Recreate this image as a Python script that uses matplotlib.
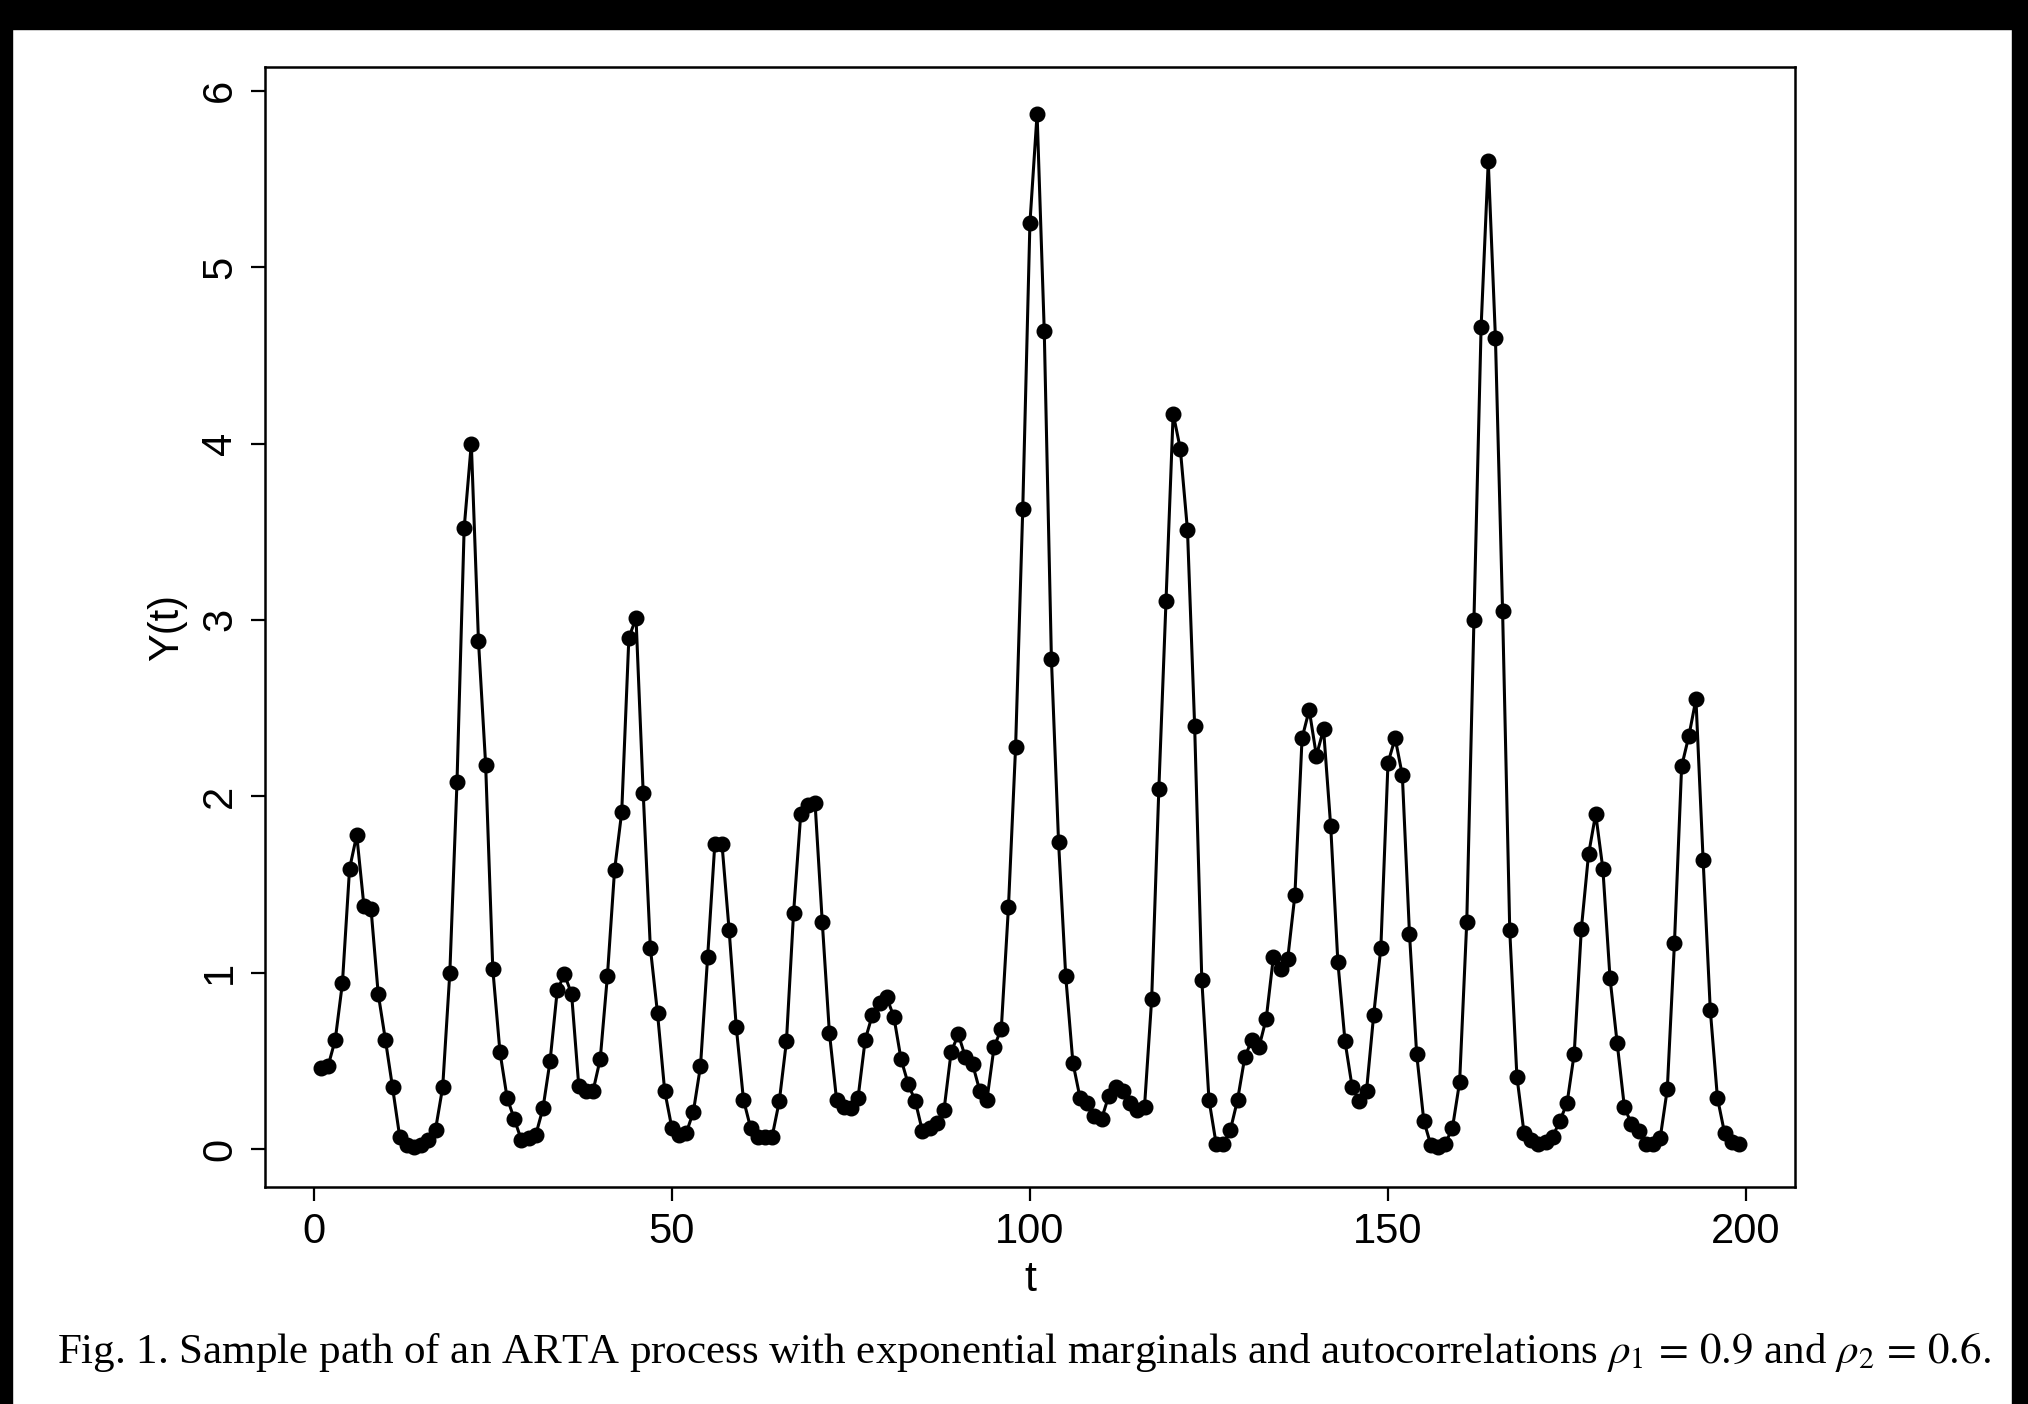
import matplotlib.pyplot as plt
from matplotlib.patches import Rectangle

# sample path values Y(t)
y_vals = [
    0.46, 0.47, 0.62, 0.94, 1.59, 1.78, 1.38, 1.36, 0.88, 0.62,
    0.35, 0.07, 0.02, 0.01, 0.02, 0.05, 0.11, 0.35, 1.00, 2.08,
    3.52, 4.00, 2.88, 2.18, 1.02, 0.55, 0.29, 0.17, 0.05, 0.06,
    0.08, 0.23, 0.50, 0.90, 0.99, 0.88, 0.36, 0.33, 0.33, 0.51,
    0.98, 1.58, 1.91, 2.90, 3.01, 2.02, 1.14, 0.77, 0.33, 0.12,
    0.08, 0.09, 0.21, 0.47, 1.09, 1.73, 1.73, 1.24, 0.69, 0.28,
    0.12, 0.07, 0.07, 0.07, 0.27, 0.61, 1.34, 1.90, 1.95, 1.96,
    1.29, 0.66, 0.28, 0.24, 0.23, 0.29, 0.62, 0.76, 0.83, 0.86,
    0.75, 0.51, 0.37, 0.27, 0.10, 0.12, 0.15, 0.22, 0.55, 0.65,
    0.52, 0.48, 0.33, 0.28, 0.58, 0.68, 1.37, 2.28, 3.63, 5.25,
    5.87, 4.64, 2.78, 1.74, 0.98, 0.49, 0.29, 0.26, 0.19, 0.17,
    0.30, 0.35, 0.33, 0.26, 0.22, 0.24, 0.85, 2.04, 3.11, 4.17,
    3.97, 3.51, 2.40, 0.96, 0.28, 0.03, 0.03, 0.11, 0.28, 0.52,
    0.62, 0.58, 0.74, 1.09, 1.02, 1.08, 1.44, 2.33, 2.49, 2.23,
    2.38, 1.83, 1.06, 0.61, 0.35, 0.27, 0.33, 0.76, 1.14, 2.19,
    2.33, 2.12, 1.22, 0.54, 0.16, 0.02, 0.01, 0.03, 0.12, 0.38,
    1.29, 3.00, 4.66, 5.60, 4.60, 3.05, 1.24, 0.41, 0.09, 0.05,
    0.03, 0.04, 0.07, 0.16, 0.26, 0.54, 1.25, 1.67, 1.90, 1.59,
    0.97, 0.60, 0.24, 0.14, 0.10, 0.03, 0.03, 0.06, 0.34, 1.17,
    2.17, 2.34, 2.55, 1.64, 0.79, 0.29, 0.09, 0.04, 0.03,
]
t_vals = list(range(1, len(y_vals) + 1))

x_ticks = [0, 50, 100, 150, 200]
y_ticks = [0, 1, 2, 3, 4, 5, 6]

plt.rcParams['mathtext.fontset'] = 'stix'

fig = plt.figure(figsize=(20.28, 14.04), dpi=100)
ax = fig.add_axes([0.1307, 0.1546, 0.7543, 0.7974])

ax.plot(t_vals, y_vals, color='black', linewidth=2.2,
        marker='o', markersize=10.5, markerfacecolor='black', markeredgecolor='black')

ax.set_xlim(-6.8, 206.8)
ax.set_ylim(-0.215, 6.133)
ax.set_xticks(x_ticks)
ax.set_yticks(y_ticks)
ax.tick_params(direction='out', length=10, width=1.6, labelsize=30, pad=8)
for lbl in ax.get_xticklabels() + ax.get_yticklabels():
    lbl.set_family('Liberation Sans')
for lbl in ax.get_yticklabels():
    lbl.set_rotation(90)
    lbl.set_va('center')
for sp in ax.spines.values():
    sp.set_linewidth(1.8)

ax.set_xlabel('t', fontsize=31, family='Liberation Sans', labelpad=6)
ax.set_ylabel('Y(t)', fontsize=30, family='Liberation Sans', va='center')
ax.yaxis.set_label_coords(-0.064, 0.5)

fig.text(0.505, 0.037,
         r'Fig. 1. Sample path of an ARTA process with exponential marginals and autocorrelations '
         r'$\rho_1\,=\,0.9$ and $\rho_2\,=\,0.6.$',
         ha='center', va='center', fontsize=31, family='Liberation Serif')

# black scan borders around the page
for (x0, y0, w, h) in [(0, 0.979, 1, 0.021), (0, 0, 0.006, 1), (0.992, 0, 0.008, 1)]:
    fig.patches.append(Rectangle((x0, y0), w, h, transform=fig.transFigure,
                                 color='black', zorder=10))

fig.savefig('out.png', dpi=100)
